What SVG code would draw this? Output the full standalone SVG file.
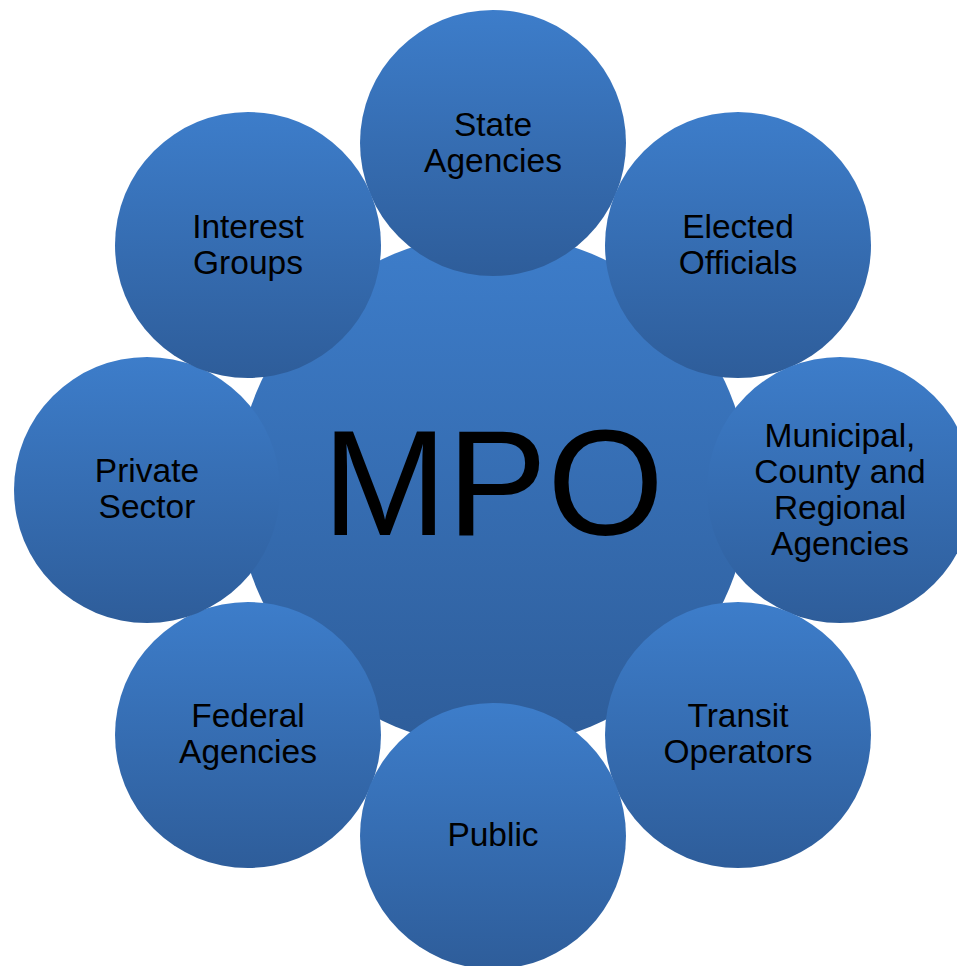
<svg xmlns="http://www.w3.org/2000/svg" width="957" height="966" viewBox="0 0 957 966">
<defs>
<linearGradient id="g" x1="0" y1="0" x2="0" y2="1">
<stop offset="0" stop-color="#3D7DCA"/>
<stop offset="1" stop-color="#2E5D9A"/>
</linearGradient>
<style>
circle{fill:url(#g);}
text{font-family:"Liberation Sans",Arial,sans-serif;font-size:33.5px;fill:#000;text-anchor:middle;}
.big{font-size:150px;}
</style>
</defs>
<rect width="957" height="966" fill="#fff"/>
<g id="connectors"/>
<g id="mpo"><circle cx="493" cy="490" r="256"/><text class="big" x="493" y="535">MPO</text></g>
<g id="state"><circle cx="493" cy="143" r="133"/><text x="493" y="136">State</text><text x="493" y="172">Agencies</text></g>
<g id="elected"><circle cx="738" cy="245" r="133"/><text x="738" y="238">Elected</text><text x="738" y="274">Officials</text></g>
<g id="municipal"><circle cx="840" cy="490" r="133"/><text x="840" y="447">Municipal,</text><text x="840" y="483">County and</text><text x="840" y="519">Regional</text><text x="840" y="555">Agencies</text></g>
<g id="transit"><circle cx="738" cy="735" r="133"/><text x="738" y="727">Transit</text><text x="738" y="763">Operators</text></g>
<g id="federal"><circle cx="248" cy="735" r="133"/><text x="248" y="727">Federal</text><text x="248" y="763">Agencies</text></g>
<g id="public"><circle cx="493" cy="836" r="133"/><text x="493" y="846">Public</text></g>
<g id="private"><circle cx="147" cy="490" r="133"/><text x="147" y="482">Private</text><text x="147" y="518">Sector</text></g>
<g id="interest"><circle cx="248" cy="245" r="133"/><text x="248" y="238">Interest</text><text x="248" y="274">Groups</text></g>
</svg>
